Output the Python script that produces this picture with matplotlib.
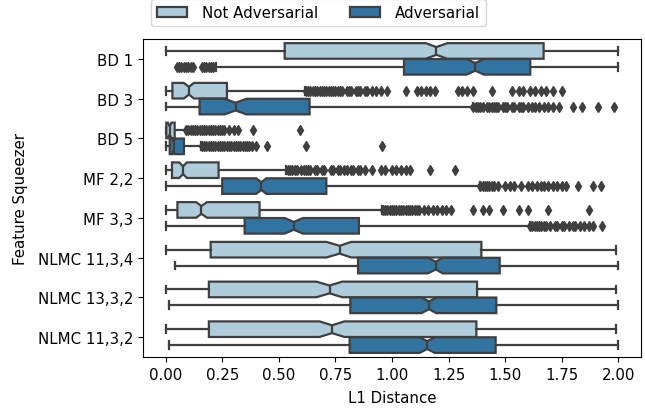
import numpy as np
import seaborn as sns
from matplotlib import pyplot as plt
from matplotlib.patches import Patch

squeezers = ["BD 1", "BD 3", "BD 5", "MF 2,2", "MF 3,3",
             "NLMC 11,3,4", "NLMC 13,3,2", "NLMC 11,3,2"]
groups = ["Not Adversarial", "Adversarial"]

# box stats: [not adversarial, adversarial] per squeezer
q1 = [[0.526, 1.053], [0.03, 0.15], [0.003, 0.018], [0.028, 0.25], [0.052, 0.349],
      [0.199, 0.85], [0.191, 0.816], [0.191, 0.813]]
med = [[1.196, 1.368], [0.103, 0.309], [0.018, 0.035], [0.077, 0.423], [0.158, 0.566],
       [0.769, 1.193], [0.725, 1.164], [0.735, 1.156]]
q3 = [[1.670, 1.611], [0.271, 0.636], [0.04, 0.081], [0.234, 0.71], [0.415, 0.854],
      [1.395, 1.476], [1.376, 1.461], [1.373, 1.458]]
wlo = [[0.0, 0.224], [0.0, 0.0], [0.0, 0.0], [0.0, 0.0], [0.0, 0.003],
       [0.0, 0.04], [0.0, 0.013], [0.0, 0.013]]
whi = [[2.0, 2.0], [0.614, 1.358], [0.088, 0.158], [0.533, 1.388], [0.958, 1.608],
       [1.99, 2.0], [1.99, 2.0], [1.99, 2.0]]
ci_lo = [[1.149, 1.329], [0.08, 0.26], [0.01, 0.03], [0.06, 0.40], [0.135, 0.526],
         [0.71, 1.159], [0.666, 1.13], [0.68, 1.122]]
ci_hi = [[1.245, 1.407], [0.125, 0.357], [0.026, 0.04], [0.094, 0.445], [0.183, 0.607],
         [0.82, 1.225], [0.78, 1.196], [0.79, 1.189]]

fliers = [
    [[],
     [0.05, 0.06, 0.07, 0.08, 0.09, 0.10, 0.11, 0.12, 0.16, 0.17, 0.18, 0.19, 0.20, 0.21]],
    [[0.62, 0.63, 0.64, 0.65, 0.66, 0.67, 0.68, 0.69, 0.70, 0.71, 0.72, 0.73, 0.74, 0.75,
      0.76, 0.77, 0.78, 0.80, 0.81, 0.82, 0.84, 0.85, 0.86, 0.88, 0.89, 0.91, 0.93, 0.95,
      0.98, 1.06, 1.11, 1.13, 1.15, 1.17, 1.19, 1.29, 1.31, 1.33, 1.36, 1.44, 1.53, 1.56,
      1.58, 1.61, 1.63, 1.66, 1.68, 1.71, 1.75],
     [1.36, 1.37, 1.38, 1.39, 1.40, 1.42, 1.43, 1.44, 1.45, 1.46, 1.47, 1.49, 1.50, 1.51,
      1.53, 1.54, 1.56, 1.57, 1.58, 1.60, 1.62, 1.63, 1.65, 1.67, 1.69, 1.71, 1.74, 1.80,
      1.84, 1.91, 1.98]],
    [[0.09, 0.10, 0.11, 0.12, 0.13, 0.14, 0.15, 0.16, 0.17, 0.18, 0.19, 0.20, 0.21, 0.22,
      0.23, 0.24, 0.25, 0.26, 0.28, 0.30, 0.32, 0.386, 0.592],
     [0.16, 0.17, 0.18, 0.19, 0.20, 0.21, 0.22, 0.23, 0.24, 0.25, 0.26, 0.27, 0.28, 0.29,
      0.30, 0.31, 0.32, 0.33, 0.34, 0.35, 0.36, 0.37, 0.38, 0.40, 0.448, 0.622, 0.956]],
    [[0.54, 0.55, 0.56, 0.57, 0.58, 0.60, 0.61, 0.62, 0.63, 0.64, 0.66, 0.67, 0.69, 0.70,
      0.73, 0.74, 0.76, 0.77, 0.79, 0.80, 0.82, 0.83, 0.85, 0.86, 0.88, 0.91, 0.95, 0.97,
      1.00, 1.02, 1.04, 1.06, 1.08, 1.17, 1.28],
     [1.39, 1.40, 1.41, 1.42, 1.43, 1.44, 1.45, 1.47, 1.50, 1.52, 1.54, 1.57, 1.60, 1.62,
      1.64, 1.66, 1.67, 1.69, 1.71, 1.73, 1.75, 1.77, 1.82, 1.89, 1.925]],
    [[0.96, 0.97, 0.98, 0.99, 1.00, 1.01, 1.02, 1.03, 1.04, 1.05, 1.06, 1.07, 1.08, 1.09,
      1.10, 1.11, 1.12, 1.14, 1.16, 1.18, 1.20, 1.22, 1.24, 1.26, 1.36, 1.40, 1.43, 1.49,
      1.56, 1.60, 1.69, 1.87],
     [1.61, 1.62, 1.63, 1.64, 1.65, 1.66, 1.67, 1.68, 1.70, 1.72, 1.73, 1.75, 1.76, 1.78,
      1.80, 1.81, 1.83, 1.85, 1.87, 1.89, 1.93]],
    [[], []],
    [[], []],
    [[], []],
]

colors = sns.color_palette("Paired", 2, desat=0.75)
gray = "#3f3f3f"
lw = 1.6
plt.rcParams["font.size"] = 10.8

fig = plt.figure(figsize=(6.45, 4.1), dpi=100)
ax = fig.add_axes([0.2217, 0.1268, 0.772, 0.7756])

for h in range(2):
    stats = []
    for i in range(len(squeezers)):
        stats.append(dict(med=med[i][h], q1=q1[i][h], q3=q3[i][h],
                          whislo=wlo[i][h], whishi=whi[i][h],
                          cilo=ci_lo[i][h], cihi=ci_hi[i][h],
                          fliers=np.array(fliers[i][h])))
    pos = np.arange(len(squeezers)) + (-0.2 if h == 0 else 0.2)
    ax.bxp(stats, positions=pos, widths=0.392, orientation="horizontal",
           shownotches=True, patch_artist=True, manage_ticks=False,
           boxprops=dict(facecolor=colors[h], edgecolor=gray, linewidth=lw),
           medianprops=dict(color=gray, linewidth=lw),
           whiskerprops=dict(color=gray, linewidth=lw),
           capprops=dict(color=gray, linewidth=lw),
           flierprops=dict(marker="d", markerfacecolor=gray, markeredgecolor=gray,
                           markersize=5.4, linestyle="none"))

ax.set_ylim(len(squeezers) - 0.5, -0.5)
ax.set_xlim(-0.1, 2.1)
ax.set_yticks(np.arange(len(squeezers)))
ax.set_yticklabels(squeezers)
ticks = [0.0, 0.25, 0.5, 0.75, 1.0, 1.25, 1.5, 1.75, 2.0]
ax.set_xticks(ticks)
ax.set_xticklabels(["%.2f" % t for t in ticks])
ax.set_xlabel("L1 Distance", labelpad=6)
ax.set_ylabel("Feature Squeezer", labelpad=7)

handles = [Patch(facecolor=colors[h], edgecolor=gray, linewidth=lw, label=groups[h])
           for h in range(2)]
fig.legend(handles=handles, ncol=2, loc="lower left",
           bbox_to_anchor=(0.234, 0.934), borderaxespad=0,
           handletextpad=1.0, columnspacing=2.1)

plt.savefig("out.png", dpi=100)
